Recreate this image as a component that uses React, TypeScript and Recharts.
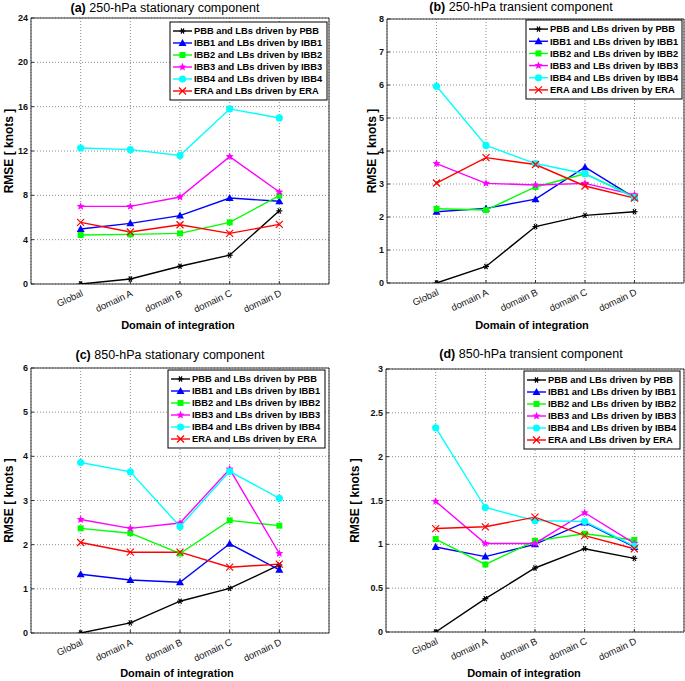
import React from 'react';
import { LineChart, Line, XAxis, YAxis, CartesianGrid, ReferenceArea } from 'recharts';

const domains = ['Global', 'domain A', 'domain B', 'domain C', 'domain D'];

const seriesKeys = ['pbb', 'ibb1', 'ibb2', 'ibb3', 'ibb4', 'era'];
const seriesNames = [
  'PBB and LBs driven by PBB',
  'IBB1 and LBs driven by IBB1',
  'IBB2 and LBs driven by IBB2',
  'IBB3 and LBs driven by IBB3',
  'IBB4 and LBs driven by IBB4',
  'ERA and LBs driven by ERA',
];

// (a) 250-hPa stationary
const aPBB = [0, 0.45, 1.6, 2.6, 6.6];
const aIBB1 = [4.96, 5.47, 6.17, 7.76, 7.46];
const aIBB2 = [4.42, 4.48, 4.57, 5.56, 7.97];
const aIBB3 = [7.0, 7.0, 7.85, 11.49, 8.3];
const aIBB4 = [12.27, 12.12, 11.6, 15.8, 14.98];
const aERA = [5.56, 4.69, 5.35, 4.57, 5.38];

// (b) 250-hPa transient
const bPBB = [0, 0.5, 1.71, 2.05, 2.16];
const bIBB1 = [2.16, 2.26, 2.54, 3.51, 2.59];
const bIBB2 = [2.25, 2.21, 2.91, 3.31, 2.62];
const bIBB3 = [3.62, 3.02, 2.97, 3.02, 2.67];
const bIBB4 = [5.96, 4.17, 3.62, 3.31, 2.59];
const bERA = [3.03, 3.8, 3.59, 2.94, 2.57];

// (c) 850-hPa stationary
const cPBB = [0, 0.23, 0.72, 1.01, 1.54];
const cIBB1 = [1.33, 1.2, 1.15, 2.02, 1.43];
const cIBB2 = [2.37, 2.26, 1.8, 2.55, 2.43];
const cIBB3 = [2.57, 2.37, 2.49, 3.71, 1.8];
const cIBB4 = [3.86, 3.65, 2.41, 3.66, 3.05];
const cERA = [2.05, 1.83, 1.83, 1.49, 1.56];

// (d) 850-hPa transient
const dPBB = [0, 0.38, 0.73, 0.95, 0.84];
const dIBB1 = [0.97, 0.86, 1.0, 1.25, 0.97];
const dIBB2 = [1.06, 0.77, 1.04, 1.12, 1.05];
const dIBB3 = [1.49, 1.01, 1.01, 1.36, 1.01];
const dIBB4 = [2.33, 1.42, 1.27, 1.26, 0.98];
const dERA = [1.18, 1.2, 1.31, 1.1, 0.95];

const aTicks = [0, 4, 8, 12, 16, 20, 24];
const bTicks = [0, 1, 2, 3, 4, 5, 6, 7, 8];
const cTicks = [0, 1, 2, 3, 4, 5, 6];
const dTicks = [0, 0.5, 1, 1.5, 2, 2.5, 3];

const colors = ['#000000', '#0000ff', '#00ff00', '#ff00ff', '#00ffff', '#ff0000'];
const markers = ['asterisk', 'triangle', 'square', 'star', 'circle', 'cross'];
const FONT = '"Liberation Sans", Arial, Helvetica, sans-serif';

const panels = [
  {
    letter: '(a)', title: ' 250-hPa stationary component', series: [aPBB, aIBB1, aIBB2, aIBB3, aIBB4, aERA], ticks: aTicks,
    box: { l: 31, t: 18, r: 329, b: 284 }, titleX: 165, titleY: 8, xlabX: 178, xlabY: 325, ylabX: 9,
    legend: { x: 170, y: 22, w: 157, h: 78 },
  },
  {
    letter: '(b)', title: ' 250-hPa transient component', series: [bPBB, bIBB1, bIBB2, bIBB3, bIBB4, bERA], ticks: bTicks,
    box: { l: 387, t: 19, r: 684, b: 283 }, titleX: 521, titleY: 7, xlabX: 532, xlabY: 325, ylabX: 372,
    legend: { x: 526, y: 20, w: 156, h: 79 },
  },
  {
    letter: '(c)', title: ' 850-hPa stationary component', series: [cPBB, cIBB1, cIBB2, cIBB3, cIBB4, cERA], ticks: cTicks,
    box: { l: 31, t: 368, r: 329, b: 633 }, titleX: 170, titleY: 355, xlabX: 177, xlabY: 673, ylabX: 9,
    legend: { x: 168, y: 370, w: 157, h: 78 },
  },
  {
    letter: '(d)', title: ' 850-hPa transient component', series: [dPBB, dIBB1, dIBB2, dIBB3, dIBB4, dERA], ticks: dTicks,
    box: { l: 386, t: 369, r: 684, b: 632 }, titleX: 531, titleY: 354, xlabX: 524, xlabY: 673, ylabX: 355,
    legend: { x: 524, y: 371, w: 156, h: 78 },
  },
];

const Marker = ({ kind, cx, cy, color }: { kind: string; cx: number; cy: number; color: string }) => {
  if (cx == null || cy == null) return null;
  switch (kind) {
    case 'asterisk':
      return (
        <g stroke={color} strokeWidth={1.2}>
          <line x1={cx - 3} y1={cy} x2={cx + 3} y2={cy} />
          <line x1={cx - 1.5} y1={cy - 2.6} x2={cx + 1.5} y2={cy + 2.6} />
          <line x1={cx - 1.5} y1={cy + 2.6} x2={cx + 1.5} y2={cy - 2.6} />
        </g>
      );
    case 'triangle':
      return <polygon points={`${cx},${cy - 4} ${cx - 4},${cy + 3} ${cx + 4},${cy + 3}`} fill={color} />;
    case 'square':
      return <rect x={cx - 3} y={cy - 3} width={6} height={6} fill={color} />;
    case 'star': {
      const pts: string[] = [];
      for (let i = 0; i < 10; i++) {
        const r = i % 2 === 0 ? 4.2 : 1.9;
        const a = -Math.PI / 2 + (i * Math.PI) / 5;
        pts.push(`${cx + r * Math.cos(a)},${cy + r * Math.sin(a)}`);
      }
      return <polygon points={pts.join(' ')} fill={color} />;
    }
    case 'circle':
      return <circle cx={cx} cy={cy} r={3.6} fill={color} />;
    default:
      return (
        <g stroke={color} strokeWidth={1.2}>
          <line x1={cx - 3.5} y1={cy - 3.5} x2={cx + 3.5} y2={cy + 3.5} />
          <line x1={cx - 3.5} y1={cy + 3.5} x2={cx + 3.5} y2={cy - 3.5} />
        </g>
      );
  }
};

const XTick = (props: any) => {
  const { x, y, payload } = props;
  return (
    <text x={x} y={y - 3} transform={`rotate(-25, ${x}, ${y - 3})`} textAnchor="end" dy="0.75em"
      fontSize={9.5} fontFamily={FONT} fill="#111">
      {domains[payload.value - 1]}
    </text>
  );
};

const YTick = (props: any) => {
  const { x, y, payload } = props;
  return (
    <text x={x} y={y} textAnchor="end" dy="0.35em" fontSize={9} fontWeight="bold" fontFamily={FONT} fill="#111">
      {payload.value}
    </text>
  );
};

const YW = 30;
const XH = 50;
const PAD = 8;
const tickStyle = { stroke: '#333', strokeWidth: 1 };

const Panel = ({ p }: { p: (typeof panels)[number] }) => {
  const { l, t, r, b } = p.box;
  const yMax = p.ticks[p.ticks.length - 1];
  const data = domains.map((name, i) => {
    const row: Record<string, number | string> = { x: i + 1, name };
    seriesKeys.forEach((k, s) => (row[k] = p.series[s][i]));
    return row;
  });
  return (
    <div style={{ position: 'absolute', left: l - YW, top: t - PAD }}>
      <LineChart width={r - l + YW + 2} height={b - t + PAD + XH} data={data}
        margin={{ top: PAD, right: 2, left: 0, bottom: 0 }}>
        <CartesianGrid stroke="#8c8c8c" strokeDasharray="1 2" />
        <XAxis type="number" dataKey="x" domain={[0, 6]} ticks={[1, 2, 3, 4, 5]} interval={0}
          height={XH} tick={<XTick />} tickLine={tickStyle} tickSize={-3} tickMargin={11} axisLine={false} allowDataOverflow />
        <XAxis xAxisId="top" orientation="top" type="number" dataKey="x" domain={[0, 6]} ticks={[1, 2, 3, 4, 5]}
          interval={0} height={0} tick={false} tickLine={tickStyle} tickSize={-3} axisLine={false} allowDataOverflow />
        <YAxis type="number" domain={[0, yMax]} ticks={p.ticks} interval={0} width={YW}
          tick={<YTick />} tickLine={tickStyle} tickSize={-3} tickMargin={6} axisLine={false} allowDataOverflow />
        <YAxis yAxisId="right" orientation="right" type="number" domain={[0, yMax]} ticks={p.ticks} interval={0}
          width={0} tick={false} tickLine={tickStyle} tickSize={-3} axisLine={false} allowDataOverflow />
        <ReferenceArea x1={0} x2={6} y1={0} y2={yMax} fill="none" stroke="#333" strokeWidth={1} strokeOpacity={1} />
        {seriesKeys.map((k, s) => (
          <Line key={k} type="linear" dataKey={k} stroke={colors[s]} strokeWidth={1.4} isAnimationActive={false}
            dot={(dp: any) => <Marker key={`${k}-${dp.index}`} kind={markers[s]} cx={dp.cx} cy={dp.cy} color={colors[s]} />}
            activeDot={false} />
        ))}
      </LineChart>
    </div>
  );
};

const Annotations = ({ p }: { p: (typeof panels)[number] }) => {
  const { t, b } = p.box;
  const lg = p.legend;
  const rowH = (lg.h - 6) / 6;
  return (
    <g fontFamily={FONT}>
      <text x={p.titleX} y={p.titleY} textAnchor="middle" dy="0.35em" fontSize={12.5} fill="#000">
        <tspan fontWeight="bold">{p.letter}</tspan>
        <tspan>{p.title}</tspan>
      </text>
      <text x={p.xlabX} y={p.xlabY} textAnchor="middle" dy="0.35em" fontSize={11} fontWeight="bold" fill="#000">
        Domain of integration
      </text>
      <text x={p.ylabX} y={(t + b) / 2} textAnchor="middle" dy="0.35em" fontSize={12} fontWeight="bold" fill="#000"
        transform={`rotate(-90, ${p.ylabX}, ${(t + b) / 2})`}>
        RMSE [ knots ]
      </text>
      <rect x={lg.x} y={lg.y} width={lg.w} height={lg.h} fill="#fff" stroke="#000" strokeWidth={1} />
      {seriesNames.map((name, s) => {
        const cy = lg.y + 3 + rowH * (s + 0.5);
        return (
          <g key={name}>
            <line x1={lg.x + 3} x2={lg.x + 22} y1={cy} y2={cy} stroke={colors[s]} strokeWidth={1.4} />
            <Marker kind={markers[s]} cx={lg.x + 12.5} cy={cy} color={colors[s]} />
            <text x={lg.x + 24} y={cy} dy="0.35em" fontSize={9.3} fontWeight="bold" fill="#000">
              {name}
            </text>
          </g>
        );
      })}
    </g>
  );
};

export default function App() {
  return (
    <div style={{ position: 'fixed', left: 0, top: 0, width: 685, height: 681, background: '#fff', overflow: 'hidden' }}>
      {panels.map((p) => (
        <Panel key={p.letter} p={p} />
      ))}
      <svg width={685} height={681} style={{ position: 'absolute', left: 0, top: 0, pointerEvents: 'none' }}>
        {panels.map((p) => (
          <Annotations key={p.letter} p={p} />
        ))}
      </svg>
    </div>
  );
}
